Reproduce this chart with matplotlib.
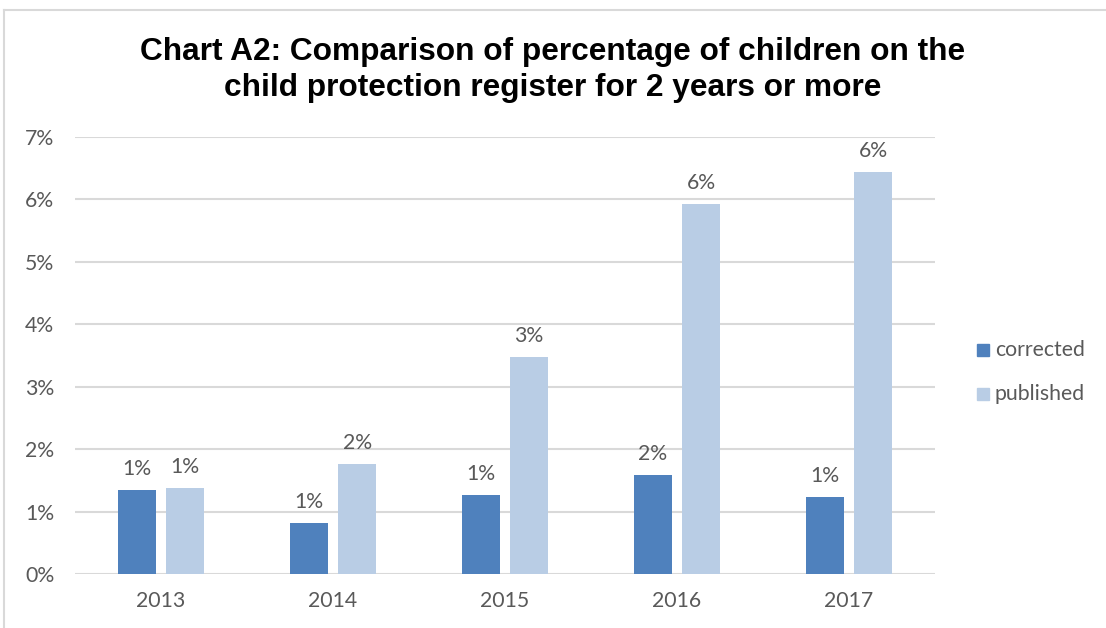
import matplotlib
matplotlib.use("Agg")
import matplotlib.pyplot as plt
import numpy as np
from matplotlib.patches import Rectangle
from matplotlib.lines import Line2D

years = ["2013", "2014", "2015", "2016", "2017"]
corrected = [1.34, 0.82, 1.26, 1.58, 1.23]
published = [1.37, 1.76, 3.47, 5.93, 6.44]
yticks = [0, 1, 2, 3, 4, 5, 6, 7]
title = "Chart A2: Comparison of percentage of children on the\nchild protection register for 2 years or more"

W, H = 1106, 628
fig = plt.figure(figsize=(W / 100, H / 100), dpi=100)
fig.patch.set_facecolor("white")

# chart border (partially visible)
fig.add_artist(Line2D([4 / W, 4 / W], [0, 1 - 10 / H], transform=fig.transFigure, color="#D9D9D9", lw=1.5))
fig.add_artist(Line2D([4 / W, 1], [1 - 10 / H, 1 - 10 / H], transform=fig.transFigure, color="#D9D9D9", lw=1.5))

ax = fig.add_axes([75 / W, 1 - 574 / H, (935 - 75) / W, (574 - 137) / H])
x = np.arange(len(years))
bw = 0.22
off = 0.14
c1, c2 = "#4F81BD", "#B9CDE5"
b1 = ax.bar(x - off, corrected, bw, color=c1, zorder=3)
b2 = ax.bar(x + off, published, bw, color=c2, zorder=3)

fs = 15.3
ax.set_xlim(-0.5, len(years) - 0.5)
ax.set_ylim(0, 7)
ax.set_yticks(yticks)
ax.set_yticklabels([f"{v}%" for v in yticks])
ax.set_xticks(x)
ax.set_xticklabels(years)
ax.grid(axis="y", color="#D9D9D9", lw=1.5, zorder=0)
for s in ax.spines.values():
    s.set_visible(False)
ax.tick_params(length=0, labelsize=fs, labelcolor="#595959")
ax.tick_params(axis="y", pad=15)
ax.tick_params(axis="x", pad=12)
for lab in ax.get_xticklabels() + ax.get_yticklabels():
    lab.set_fontfamily("Lato")

for bars, vals in ((b1, corrected), (b2, published)):
    for r, v in zip(bars, vals):
        ax.annotate(f"{round(v):.0f}%", (r.get_x() + r.get_width() / 2, v),
                    xytext=(0, 8), textcoords="offset points", ha="center", va="bottom",
                    fontsize=fs, color="#595959", family="Lato")

fig.text(0.5, 1 - 70 / H, title, ha="center", va="center", fontsize=22.8,
         fontweight="bold", family="Liberation Sans", color="black", linespacing=1.3)

# legend
for yy, col, lab in ((350, c1, "corrected"), (394, c2, "published")):
    fig.add_artist(Rectangle((977 / W, 1 - (yy + 6) / H), 12 / W, 12 / H,
                             transform=fig.transFigure, color=col))
    fig.text(995 / W, 1 - yy / H, lab, ha="left", va="center", fontsize=fs,
             color="#595959", family="Lato")

fig.savefig("out.png", dpi=100)
